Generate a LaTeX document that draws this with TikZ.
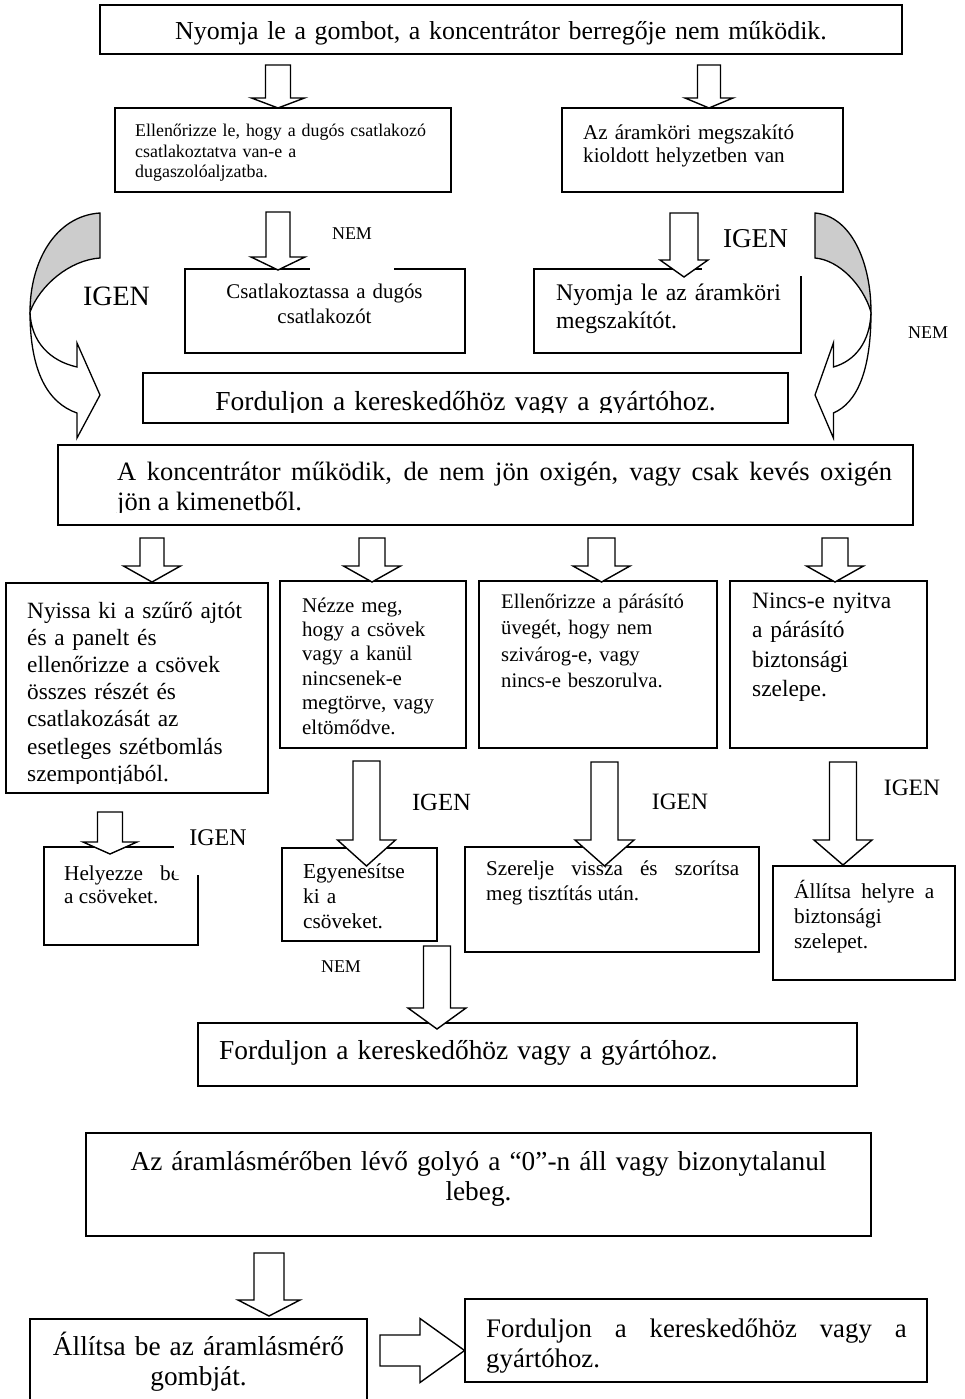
\documentclass[tikz,border=0pt]{standalone}
\usepackage{fontspec}
\setmainfont{Liberation Serif}
\usepackage{tikz}

\hyphenpenalty=10000
\exhyphenpenalty=10000

\newcommand{\FSize}[2]{\fontsize{#1}{#2}\selectfont}
% block arrows: centre, shaft start, shaft end, tip, half shaft, half head
\newcommand{\DArrow}[6]{\draw[blk] (#1-#5,#2) -- (#1+#5,#2) -- (#1+#5,#3) -- (#1+#6,#3)
    -- (#1,#4) -- (#1-#6,#3) -- (#1-#5,#3) -- cycle;}
\newcommand{\RArrow}[6]{\draw[blk] (#2,#1-#5) -- (#3,#1-#5) -- (#3,#1-#6) -- (#4,#1)
    -- (#3,#1+#6) -- (#3,#1+#5) -- (#2,#1+#5) -- cycle;}
\newcommand{\CurlArrow}{%
    \draw[curl,fill=gray!40] (100,213) .. controls (55,216) and (30,262) .. (30,312)
          .. controls (40,285) and (70,260) .. (100,258) -- cycle;
    \draw[curl,fill=white] (30,312) .. controls (30,372) and (48,403) .. (77,413)
          -- (77,438) -- (100,395) -- (77,343) -- (77,367)
          .. controls (50,361) and (31,342) .. (30,312) -- cycle;
}

\tikzset{
    box/.style={draw,line width=2pt},
    txt/.style={inner sep=0pt,anchor=base west,align=left},
    ctxt/.style={inner sep=0pt,anchor=base,align=center},
    jtxt/.style={inner sep=0pt,anchor=base west,align=justify},
    lbl/.style={inner sep=0pt},
    cover/.style={fill=white,inner sep=0pt},
    blk/.style={draw,line width=1.4pt,fill=white,line join=miter},
    curl/.style={draw,line width=1.3pt,line join=miter},
}

\begin{document}
\begin{tikzpicture}[x=1pt,y=-1pt]
    \useasboundingbox (0,0) rectangle (964,1399);

    % frames
    \draw[box] (100,5) rectangle (902,54);
    \draw[box] (115,108) rectangle (451,192);
    \draw[box] (562,108) rectangle (843,192);
    \draw[box] (185,269) rectangle (465,353);
    \draw[box] (534,269) rectangle (801,353);
    \draw[box] (143,373) rectangle (788,423);
    \draw[box] (58,445) rectangle (913,525);
    \draw[box] (6,583) rectangle (268,793);
    \draw[box] (280,581) rectangle (466,748);
    \draw[box] (479,581) rectangle (717,748);
    \draw[box] (730,581) rectangle (927,748);
    \draw[box] (44,847) rectangle (198,945);
    \draw[box] (282,848) rectangle (437,941);
    \draw[box] (465,847) rectangle (759,952);
    \draw[box] (773,866) rectangle (955,980);
    \draw[box] (198,1023) rectangle (857,1086);
    \draw[box] (86,1133) rectangle (871,1236);
    \draw[box] (30,1319) rectangle (367,1420);
    \draw[box] (465,1299) rectangle (927,1382);

    % texts
    \node[ctxt,text width=790pt,font=\FSize{25.9}{30}] (buzzer) at (501,40)
        {Nyomja le a gombot, a koncentrátor berregője nem működik.};
    \begin{scope}
        \clip (115,108) rectangle (451,181);
        \node[txt,text width=310pt,font=\FSize{17.9}{20.5}] (chkplug) at (135,137)
            {Ellenőrizze le, hogy a dugós csatlakozó\\ csatlakoztatva van-e a\\ dugaszolóaljzatba.};
    \end{scope}
    \node[txt,text width=250pt,font=\FSize{21.1}{23}] (breaker) at (583,140)
        {Az áramköri megszakító\\ kioldott helyzetben van};
    \node[ctxt,text width=260pt,font=\FSize{20.9}{25}] (plugin) at (324.5,298)
        {Csatlakoztassa a dugós\\ csatlakozót};
    \node[txt,text width=240pt,font=\FSize{23.8}{28}] (pushbrk) at (556,300)
        {Nyomja le az áramköri\\ megszakítót.};
    \begin{scope}
        \clip (143,373) rectangle (788,412);
        \node[ctxt,text width=640pt,font=\FSize{27.5}{33}] (dealerA) at (465.5,410)
            {Forduljon a kereskedőhöz vagy a gyártóhoz.};
    \end{scope}
    \begin{scope}
        \clip (58,445) rectangle (913,512);
        \node[jtxt,text width=775pt,font=\FSize{26.5}{30}] (nooxy) at (117,480)
            {A koncentrátor működik, de nem jön oxigén, vagy csak kevés oxigén\linebreak jön a kimenetből.};
    \end{scope}
    \begin{scope}
        \clip (6,583) rectangle (268,783);
        \node[txt,text width=240pt,font=\FSize{23.3}{27.2}] (filter) at (27,618)
            {Nyissa ki a szűrő ajtót\\ és a panelt és\\ ellenőrizze a csövek\\ összes részét és\\
             csatlakozását az\\ esetleges szétbomlás\\ szempontjából.};
    \end{scope}
    \node[txt,text width=160pt,font=\FSize{20.9}{24.4}] (tubes) at (302,612)
        {Nézze meg,\\ hogy a csövek\\ vagy a kanül\\ nincsenek-e\\ megtörve, vagy\\ eltömődve.};
    \node[txt,text width=210pt,font=\FSize{20.7}{26.5}] (bottle) at (501,608)
        {Ellenőrizze a párásító\\ üvegét, hogy nem\\ szivárog-e, vagy\\ nincs-e beszorulva.};
    \node[txt,text width=170pt,font=\FSize{23.4}{29.5}] (valve) at (752,608)
        {Nincs-e nyitva\\ a párásító\\ biztonsági\\ szelepe.};
    \node[jtxt,text width=116pt,font=\FSize{21.2}{23.5}] (refit) at (64,880)
        {Helyezze be\linebreak a csöveket.};
    \node[txt,text width=130pt,font=\FSize{21.3}{25}] (straight) at (303,878)
        {Egyenesítse\\ ki a\\ csöveket.};
    \node[jtxt,text width=253pt,font=\FSize{21.1}{25}] (retight) at (486,875)
        {Szerelje vissza és szorítsa\linebreak meg tisztítás után.};
    \node[jtxt,text width=140pt,font=\FSize{21.3}{25}] (resetv) at (794,898)
        {Állítsa helyre a\linebreak biztonsági\\ szelepet.};
    \node[txt,text width=620pt,font=\FSize{27.4}{33}] (dealerB) at (219,1059)
        {Forduljon a kereskedőhöz vagy a gyártóhoz.};
    \node[ctxt,text width=760pt,font=\FSize{27.3}{30}] (ball) at (478.5,1170)
        {Az áramlásmérőben lévő golyó a “0”-n áll vagy bizonytalanul\\ lebeg.};
    \node[ctxt,text width=330pt,font=\FSize{27.3}{30}] (knob) at (198.5,1355)
        {Állítsa be az áramlásmérő\\ gombját.};
    \node[jtxt,text width=420.5pt,font=\FSize{26.8}{30}] (dealerC) at (486,1337)
        {Forduljon a kereskedőhöz vagy a\linebreak gyártóhoz.};

    % yes / no marks
    \node[cover,minimum width=84pt,minimum height=74pt,font=\FSize{18}{20}] (nemA) at (352,234) {NEM};
    \node[cover,minimum width=107pt,minimum height=74pt,font=\FSize{27.2}{30}] (igenB) at (755.5,239) {IGEN};
    \node[cover,minimum width=88pt,minimum height=74pt,font=\FSize{23.9}{26}] (igenC) at (218,838) {IGEN};
    \node[lbl,font=\FSize{28}{30}] (igenL) at (116.5,296) {IGEN};
    \node[lbl,font=\FSize{18}{20}] (nemR) at (928,333) {NEM};
    \node[lbl,font=\FSize{24.7}{27}] (igenD) at (441.5,802) {IGEN};
    \node[lbl,font=\FSize{23.5}{26}] (igenE) at (680,802) {IGEN};
    \node[lbl,font=\FSize{23.5}{26}] (igenF) at (912,788) {IGEN};
    \node[lbl,font=\FSize{18}{20}] (nemJ) at (341,967) {NEM};

    % block arrows
    \DArrow{278}{65}{98}{108}{12.5}{26.5}
    \DArrow{709}{65}{98}{108}{11.5}{24}
    \DArrow{278}{212}{257}{270}{12}{27}
    \DArrow{684}{213}{260}{277}{14}{24}
    \DArrow{152}{538}{566}{582}{12}{28.5}
    \DArrow{372}{538}{566}{582}{13}{28.5}
    \DArrow{601.5}{538}{566}{582}{13.5}{28.5}
    \DArrow{835}{538}{566}{582}{13}{28.5}
    \DArrow{110}{812}{842}{854}{12.5}{27}
    \DArrow{366.5}{761}{840}{866}{13.5}{29}
    \DArrow{604.5}{762}{840}{866}{13.5}{29.5}
    \DArrow{843}{762}{840}{865}{13.5}{29}
    \DArrow{437}{946}{1008}{1029}{13.5}{29}
    \DArrow{269}{1253}{1300}{1316}{15}{31}
    \RArrow{1350.5}{380}{420}{464.6}{15.5}{32}

    % curved arrows
    \CurlArrow
    \begin{scope}[xshift=895pt,xscale=-0.8]
        \CurlArrow
    \end{scope}
\end{tikzpicture}
\end{document}
